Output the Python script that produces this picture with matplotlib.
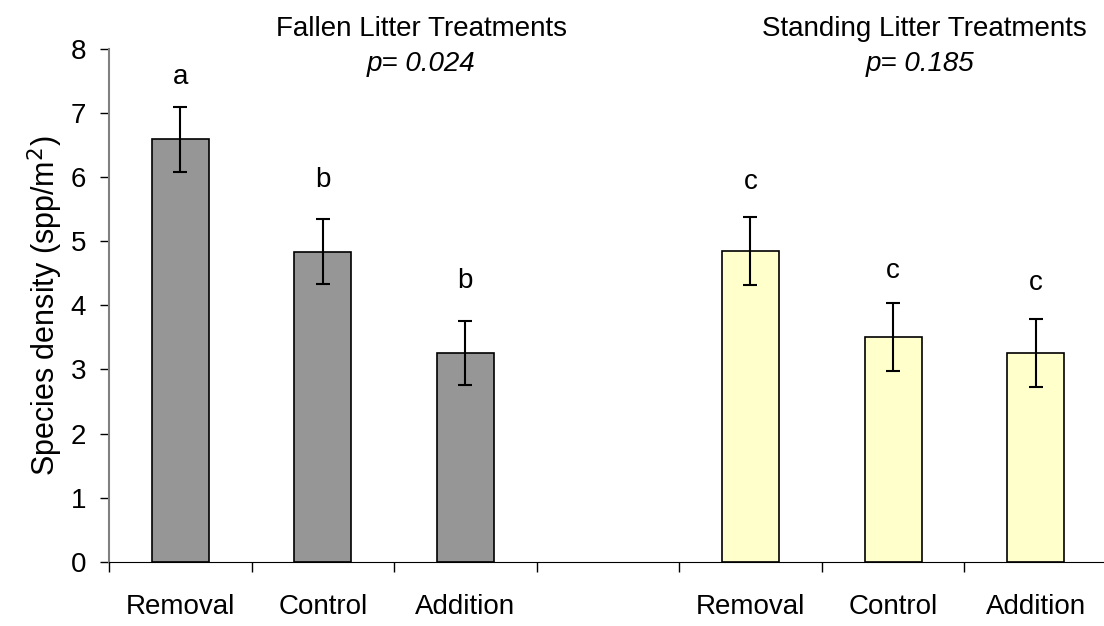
import numpy as np
import matplotlib.pyplot as plt

plt.rcParams['font.family'] = ['Liberation Sans', 'DejaVu Sans']

# data
treatments = ['Removal', 'Control', 'Addition']
fallen_mean = [6.59, 4.84, 3.26]
fallen_se = [0.51, 0.50, 0.50]
fallen_letters = ['a', 'b', 'b']
fallen_letter_y = [7.57, 5.95, 4.38]
standing_mean = [4.85, 3.51, 3.26]
standing_se = [0.53, 0.53, 0.53]
standing_letters = ['c', 'c', 'c']
standing_letter_y = [5.93, 4.53, 4.35]
group_titles = ['Fallen Litter Treatments', 'Standing Litter Treatments']
p_values = ['0.024', '0.185']

fallen_x = np.arange(3)
standing_x = np.arange(3) + 4

fig = plt.figure(figsize=(11.04, 6.26), dpi=100)
ax = fig.add_axes([0.0987, 0.1027, 0.9013, 0.819])

ax.bar(fallen_x, fallen_mean, width=0.4, color='#969696', edgecolor='black', linewidth=1.2, zorder=2)
ax.bar(standing_x, standing_mean, width=0.4, color='#FFFFCC', edgecolor='black', linewidth=1.2, zorder=2)
ax.errorbar(fallen_x, fallen_mean, yerr=fallen_se, fmt='none', ecolor='black', elinewidth=1.5,
            capsize=5, capthick=1.5, zorder=3)
ax.errorbar(standing_x, standing_mean, yerr=standing_se, fmt='none', ecolor='black', elinewidth=1.5,
            capsize=5, capthick=1.5, zorder=3)

for x, t, y in zip(fallen_x, fallen_letters, fallen_letter_y):
    ax.text(x, y, t, ha='center', va='center', fontsize=20)
for x, t, y in zip(standing_x, standing_letters, standing_letter_y):
    ax.text(x, y, t, ha='center', va='center', fontsize=20)

# group headings
for cx, pcx, title, p in zip([1.69, 5.22], [1.69, 5.19], group_titles, p_values):
    ax.text(cx, 8.32, title, ha='center', va='center', fontsize=20, clip_on=False)
    ax.text(pcx, 7.76, 'p= ' + p, ha='center', va='center', fontsize=20, style='italic', clip_on=False)

ax.set_xlim(-0.5, 6.48)
ax.set_ylim(0, 8)
ax.set_yticks(range(0, 9))
ax.tick_params(axis='y', direction='out', length=6.5, width=1, labelsize=20, pad=10)

# tick marks at slot boundaries, labels at bar centres
ax.set_xticks(np.arange(-0.5, 6, 1.0))
ax.set_xticklabels([])
ax.set_xticks(list(fallen_x) + list(standing_x), minor=True)
ax.set_xticklabels(treatments + treatments, minor=True)
ax.tick_params(axis='x', which='major', direction='out', length=7.5, width=1)
ax.tick_params(axis='x', which='minor', length=0, labelsize=20, pad=23)

ax.set_ylabel('Species density (spp/m$^2$)', fontsize=22, labelpad=4)

ax.spines['top'].set_visible(False)
ax.spines['right'].set_visible(False)
ax.spines['left'].set_color('#808080')
ax.spines['left'].set_linewidth(1.5)
ax.spines['bottom'].set_color('black')

fig.savefig('out.png', dpi=100)
